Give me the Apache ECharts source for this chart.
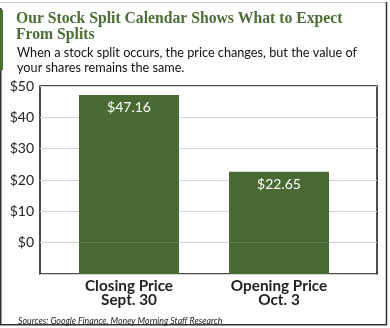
<!DOCTYPE html>
<html><head><meta charset="utf-8">
<script src="https://cdn.jsdelivr.net/npm/echarts@6/dist/echarts.min.js"></script>
<style>html,body{margin:0;padding:0;background:#fff}#c{width:390px;height:328px}</style>
</head><body><div id="c"></div>
<script>
const categories = ['Closing Price\nSept. 30', 'Opening Price\nOct. 3'];
const prices = [47.16, 22.65];
const yTicks = [-10, 0, 10, 20, 30, 40, 50];
const Y_MIN = -10, Y_MAX = 50, Y_STEP = 10;

const GREEN = '#4a6a33';
const chart = echarts.init(document.getElementById('c'), null, {renderer: 'canvas'});
chart.setOption({
  animation: false,
  backgroundColor: '#fff',
  title: [
    {text: 'Our Stock Split Calendar Shows What to Expect\nFrom Splits', left: 11, top: 6,
     textStyle: {fontFamily: 'Liberation Serif', fontWeight: 'bold', fontSize: 15.7, lineHeight: 16, color: '#4a6e34'}},
    {text: 'When a stock split occurs, the price changes, but the value of\nyour shares remains the same.', left: 12, top: 41,
     textStyle: {fontFamily: 'Lato', fontWeight: 'normal', fontSize: 12.7, lineHeight: 14.5, color: '#111'}},
    {text: 'Sources: Google Finance, Money Morning Staff Research', left: 13, top: 311,
     textStyle: {fontFamily: 'Lato', fontStyle: 'italic', fontWeight: 'normal', fontSize: 8.8, lineHeight: 11, color: '#222'}}
  ],
  graphic: [
    {type: 'line', shape: {x1: 0, y1: 2.5, x2: 387, y2: 2.5}, style: {stroke: '#c8c8c8', lineWidth: 1}},
    {type: 'line', shape: {x1: 0.75, y1: 8, x2: 0.75, y2: 325}, style: {stroke: '#333', lineWidth: 1.5}},
    {type: 'line', shape: {x1: 386.5, y1: 2, x2: 386.5, y2: 325}, style: {stroke: '#333', lineWidth: 1.5}},
    {type: 'line', shape: {x1: 0, y1: 324.75, x2: 387, y2: 324.75}, style: {stroke: '#333', lineWidth: 1.5}},
    {type: 'rect', shape: {x: 0, y: 10, width: 3, height: 60}, style: {fill: '#4a6e34'}}
  ],
  grid: [
    {left: 40, right: 13, top: 86, bottom: 54, show: true, borderColor: '#111', borderWidth: 1.5, containLabel: false},
    {left: 54, right: 36, top: 86, bottom: 54, show: false, containLabel: false}
  ],
  xAxis: [
    {type: 'category', gridIndex: 0, data: categories, show: false},
    {type: 'category', gridIndex: 1, data: categories,
     axisLine: {show: false}, axisTick: {show: false},
     axisLabel: {margin: 5, fontFamily: 'Lato', fontWeight: 'bold', fontSize: 15.3, lineHeight: 14, color: '#222'}}
  ],
  yAxis: [
    {type: 'value', gridIndex: 0, min: Y_MIN, max: Y_MAX, interval: Y_STEP,
     axisLine: {show: false}, axisTick: {show: false},
     splitLine: {lineStyle: {color: '#d4d4d4', width: 1}},
     axisLabel: {margin: 6, fontFamily: 'Lato', fontSize: 14, color: '#222',
       formatter: v => (yTicks.indexOf(v) > 0 ? '$' + v : '')}},
    {type: 'value', gridIndex: 1, min: Y_MIN, max: Y_MAX, interval: Y_STEP, show: false, splitLine: {show: false}}
  ],
  series: [
    {name: 'base', type: 'bar', xAxisIndex: 1, yAxisIndex: 1, silent: true, barWidth: 100, barGap: '-100%',
     itemStyle: {color: GREEN}, data: categories.map(() => Y_MIN)},
    {name: 'price', type: 'bar', xAxisIndex: 1, yAxisIndex: 1, barWidth: 100, barGap: '-100%',
     itemStyle: {color: GREEN}, data: prices,
     label: {show: true, position: 'insideTop', distance: 6, color: '#fff', fontFamily: 'Lato', fontSize: 14,
       formatter: p => '$' + p.value.toFixed(2)}}
  ]
});
</script></body></html>
